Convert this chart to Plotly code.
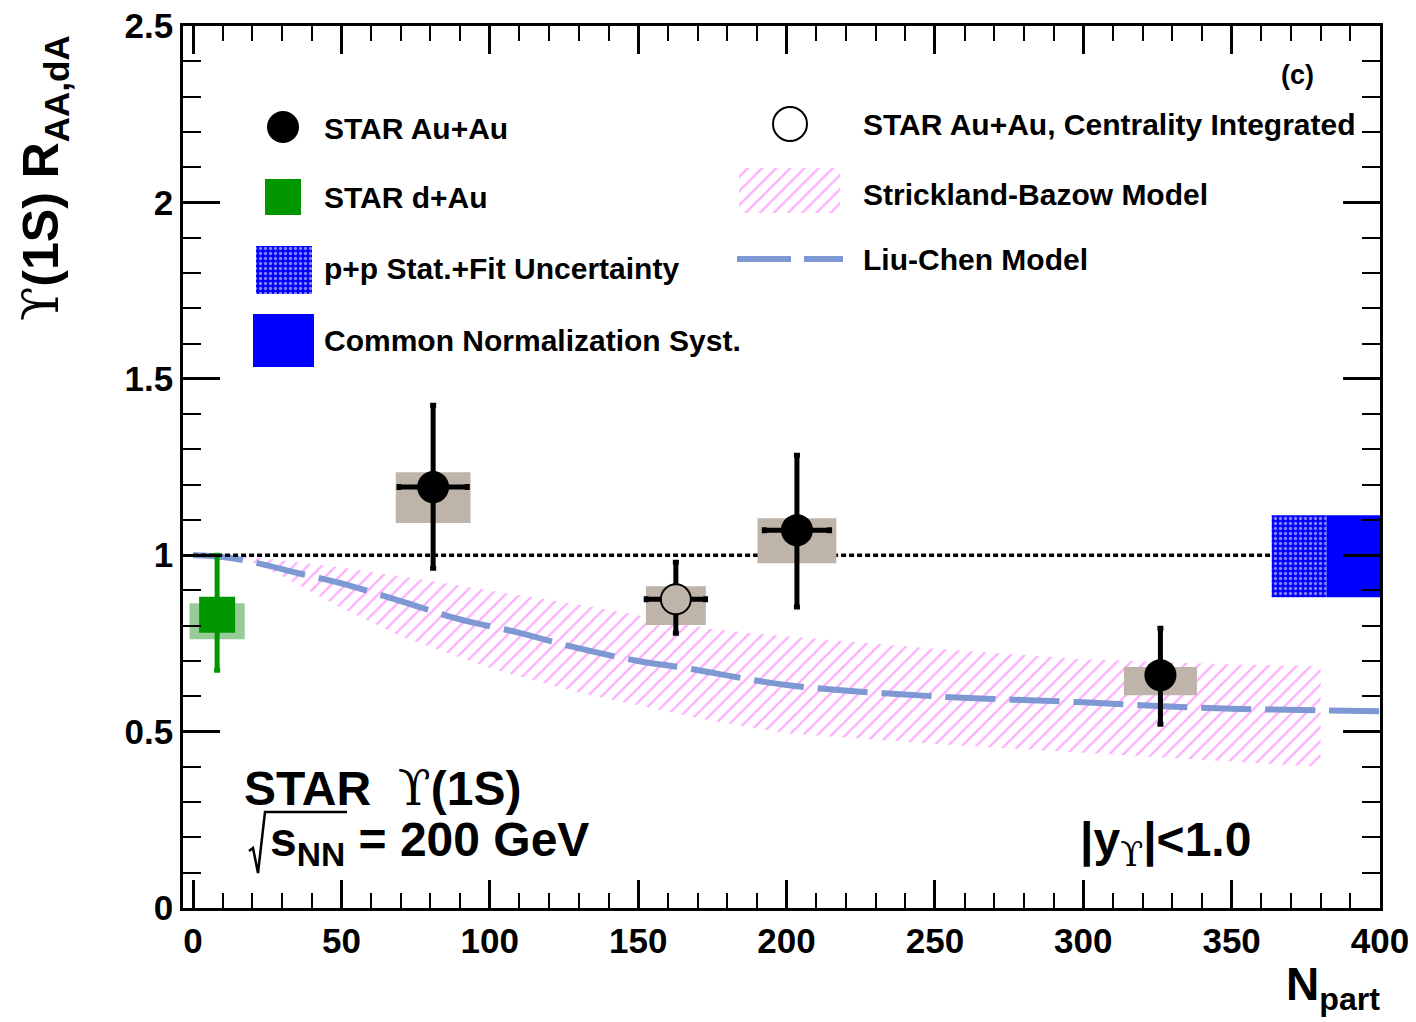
import plotly.graph_objects as go

# ---------------- data ----------------
auau_npart = [80.9, 203.5, 326.0]
auau_raa = [1.193, 1.071, 0.660]
auau_stat_up = [0.232, 0.212, 0.133]
auau_stat_dn = [0.230, 0.218, 0.139]
auau_xerr = [11.5, 11.0, 0.0]
auau_sys_up = [0.042, 0.034, 0.023]
auau_sys_dn = [0.102, 0.094, 0.057]
auau_sys_hw = [12.6, 13.3, 12.3]

int_npart = [162.7]
int_raa = [0.875]
int_stat_up = [0.105]
int_stat_dn = [0.096]
int_xerr = [10.0]
int_sys_up = [0.037]
int_sys_dn = [0.073]
int_sys_hw = [10.1]

dau_npart = [8.1]
dau_raa = [0.831]
dau_stat_up = [0.169]
dau_stat_dn = [0.157]
dau_sys_up = [0.033]
dau_sys_dn = [0.069]
dau_sys_hw = [9.3]

sb_npart = [15, 30, 50, 70, 100, 130, 150, 175, 200, 250, 300, 350, 380]
sb_upper = [1.0, 0.985, 0.965, 0.94, 0.90, 0.86, 0.83, 0.79, 0.77, 0.735, 0.705, 0.69, 0.685]
sb_lower = [1.0, 0.94, 0.85, 0.77, 0.68, 0.61, 0.575, 0.53, 0.495, 0.465, 0.44, 0.415, 0.40]

lc_npart = [0, 10, 22, 35, 50, 70, 89, 110, 128, 150, 166, 200, 250, 300, 327, 350, 380, 400]
lc_raa = [1.0, 0.995, 0.977, 0.95, 0.92, 0.87, 0.82, 0.78, 0.74, 0.70, 0.68, 0.632, 0.60, 0.583, 0.572, 0.565, 0.56, 0.558]

unity_npart = [0, 363.5]
unity_raa = [1.0, 1.0]

pp_stat_npart = [363.5, 382.0]
norm_npart = [382.0, 400.0]
pp_unc_up = 0.113
pp_unc_dn = 0.119

x_ticks = [0, 50, 100, 150, 200, 250, 300, 350, 400]
x_ticklabels = ["0", "50", "100", "150", "200", "250", "300", "350", "400"]
y_ticks = [0, 0.5, 1.0, 1.5, 2.0, 2.5]
y_ticklabels = ["0", "0.5", "1", "1.5", "2", "2.5"]

# ---------------- styles ----------------
FONT = "Liberation Sans"
TAN = "rgb(190,180,170)"
LC_COLOR = "rgb(125,152,210)"
HATCH = "rgb(255,90,255)"
PPBLUE = "rgb(0,0,255)"

# reference-pixel geometry of the frame (page has an 8 px body margin)
OFF = 8
L, R, T, B = 183, 1380, 26, 908
W, H = 1408, 1012


def px_x(p):
    return (p - L) / (R - L)


def px_y(p):
    return (B - p) / (B - T)


def boxes(xc, yc, hw, up, dn):
    xs, ys = [], []
    for x, y, w, u, d in zip(xc, yc, hw, up, dn):
        xs += [x - w, x + w, x + w, x - w, x - w, None]
        ys += [y - d, y - d, y + u, y + u, y - d, None]
    return xs, ys


NOLINE = dict(width=0, color="rgba(0,0,0,0)")
HATCHPAT = dict(shape="/", fgcolor=HATCH, bgcolor="rgba(0,0,0,0)", size=10, solidity=0.22)
PPPAT = dict(shape=".", fgcolor="white", bgcolor=PPBLUE, size=5, solidity=0.35)
fig = go.Figure()

# Strickland-Bazow band
fig.add_trace(go.Scatter(
    x=sb_npart + sb_npart[::-1], y=sb_upper + sb_lower[::-1],
    fill="toself", mode="lines", line=NOLINE, fillcolor="rgba(0,0,0,0)",
    fillpattern=HATCHPAT, hoverinfo="skip"))

# Liu-Chen
fig.add_trace(go.Scatter(
    x=lc_npart, y=lc_raa, mode="lines",
    line=dict(color=LC_COLOR, width=6, dash="50px,14px", shape="spline"),
    hoverinfo="skip"))

# unity line
fig.add_trace(go.Scatter(
    x=unity_npart, y=unity_raa, mode="lines",
    line=dict(color="black", width=3.5, dash="5px,3px"), hoverinfo="skip"))

# p+p stat + fit uncertainty
fig.add_trace(go.Scatter(
    x=[pp_stat_npart[0], pp_stat_npart[1], pp_stat_npart[1], pp_stat_npart[0], pp_stat_npart[0]],
    y=[1 - pp_unc_dn, 1 - pp_unc_dn, 1 + pp_unc_up, 1 + pp_unc_up, 1 - pp_unc_dn],
    fill="toself", mode="lines", line=NOLINE, fillcolor=PPBLUE,
    fillpattern=PPPAT, hoverinfo="skip"))

# common normalization
fig.add_trace(go.Scatter(
    x=[norm_npart[0], norm_npart[1], norm_npart[1], norm_npart[0], norm_npart[0]],
    y=[1 - pp_unc_dn, 1 - pp_unc_dn, 1 + pp_unc_up, 1 + pp_unc_up, 1 - pp_unc_dn],
    fill="toself", mode="lines", line=NOLINE, fillcolor=PPBLUE, hoverinfo="skip"))

# systematic boxes
bx, by = boxes(auau_npart + int_npart, auau_raa + int_raa, auau_sys_hw + int_sys_hw,
               auau_sys_up + int_sys_up, auau_sys_dn + int_sys_dn)
fig.add_trace(go.Scatter(x=bx, y=by, fill="toself", mode="lines", line=NOLINE,
                         fillcolor=TAN, hoverinfo="skip"))
dx, dy = boxes(dau_npart, dau_raa, dau_sys_hw, dau_sys_up, dau_sys_dn)
fig.add_trace(go.Scatter(x=dx, y=dy, fill="toself", mode="lines", line=NOLINE,
                         fillcolor="rgb(150,205,150)", hoverinfo="skip"))

# d+Au
fig.add_trace(go.Scatter(
    x=dau_npart, y=dau_raa, mode="markers",
    marker=dict(symbol="square", size=36, color="rgb(0,150,0)"),
    error_y=dict(type="data", symmetric=False, array=dau_stat_up, arrayminus=dau_stat_dn,
                 thickness=5, width=3, color="rgb(0,150,0)"),
    hoverinfo="skip"))

# Au+Au
fig.add_trace(go.Scatter(
    x=auau_npart, y=auau_raa, mode="markers",
    marker=dict(symbol="circle", size=32, color="black"),
    error_y=dict(type="data", symmetric=False, array=auau_stat_up, arrayminus=auau_stat_dn,
                 thickness=5, width=3, color="black"),
    error_x=dict(type="data", array=auau_xerr, thickness=5, width=3, color="black"),
    hoverinfo="skip"))

# centrality integrated
fig.add_trace(go.Scatter(
    x=int_npart, y=int_raa, mode="markers",
    marker=dict(symbol="circle", size=30, color=TAN, line=dict(color="black", width=2)),
    error_y=dict(type="data", symmetric=False, array=int_stat_up, arrayminus=int_stat_dn,
                 thickness=5, width=3, color="black"),
    error_x=dict(type="data", array=int_xerr, thickness=5, width=3, color="black"),
    hoverinfo="skip"))

# ---------------- legend (overlay axes in paper units) ----------------
leg = dict(xaxis="x2", yaxis="y2", hoverinfo="skip")
fig.add_trace(go.Scatter(x=[px_x(283)], y=[px_y(127)], mode="markers",
                         marker=dict(symbol="circle", size=32, color="black"), **leg))
fig.add_trace(go.Scatter(x=[px_x(283)], y=[px_y(197)], mode="markers",
                         marker=dict(symbol="square", size=36, color="rgb(0,150,0)"), **leg))
fig.add_trace(go.Scatter(x=[px_x(790)], y=[px_y(124)], mode="markers",
                         marker=dict(symbol="circle-open", size=34, color="black", line=dict(width=2)), **leg))


def rect(x0, x1, y0, y1):
    return ([px_x(x0), px_x(x1), px_x(x1), px_x(x0), px_x(x0)],
            [px_y(y1), px_y(y1), px_y(y0), px_y(y0), px_y(y1)])


rx, ry = rect(256, 312, 246, 294)
fig.add_trace(go.Scatter(x=rx, y=ry, fill="toself", mode="lines", line=NOLINE, fillcolor=PPBLUE,
                         fillpattern=PPPAT, **leg))
rx, ry = rect(253, 314, 314, 367)
fig.add_trace(go.Scatter(x=rx, y=ry, fill="toself", mode="lines", line=NOLINE,
                         fillcolor=PPBLUE, **leg))
rx, ry = rect(739, 840, 168, 213)
fig.add_trace(go.Scatter(x=rx, y=ry, fill="toself", mode="lines", line=NOLINE,
                         fillcolor="rgba(0,0,0,0)", fillpattern=HATCHPAT, **leg))
fig.add_trace(go.Scatter(x=[px_x(737), px_x(843)], y=[px_y(259), px_y(259)], mode="lines",
                         line=dict(color=LC_COLOR, width=6, dash="54px,13px"), **leg))

annotations = []


def txt(text, x, y, size, xanchor="left", yanchor="middle", angle=0):
    annotations.append(dict(text=text, x=px_x(x), y=px_y(y), xref="paper", yref="paper",
                            xanchor=xanchor, yanchor=yanchor, showarrow=False, textangle=angle,
                            font=dict(family=FONT, size=size, color="black", weight="bold")))


LEGSIZE = 30
txt("STAR Au+Au", 322, 128, LEGSIZE)
txt("STAR d+Au", 322, 198, LEGSIZE)
txt("p+p Stat.+Fit Uncertainty", 322, 268, LEGSIZE)
txt("Common Normalization Syst.", 322, 340, LEGSIZE)
txt("STAR Au+Au, Centrality Integrated", 861, 124, LEGSIZE)
txt("Strickland-Bazow Model", 861, 194, LEGSIZE)
txt("Liu-Chen Model", 861, 260, LEGSIZE)
txt("(c)", 1297, 75, 27, xanchor="center")

UPS = "<span style='font-family:DejaVu Serif;font-weight:normal'>ϒ</span>"
txt("STAR  " + UPS + "(1S)", 242, 788, 48)
txt("s<sub>NN</sub> = 200 GeV", 268, 843, 48)
txt("|y<sub>" + UPS + "</sub>|<1.0", 1078, 843, 48)
txt("N<sub>part</sub>", 1382, 987, 46, xanchor="right")
txt(UPS + "(1S) R<sub>AA,dA</sub>", 44, 178, 50, xanchor="center", angle=-90)

# radical sign for sqrt(s_NN)
rad = [(249, 851), (253, 848), (258, 873), (265, 812), (347, 812)]
path = "M " + " L ".join(f"{px_x(a):.5f},{px_y(b):.5f}" for a, b in rad)
shapes = [dict(type="path", path=path, xref="paper", yref="paper",
               line=dict(color="black", width=2.5))]

axfont = dict(family=FONT, size=35, color="black", weight="bold")

fig.update_layout(
    width=W, height=H,
    margin=dict(l=L - OFF, r=W - (R - OFF), t=T - OFF, b=H - (B - OFF), autoexpand=False),
    plot_bgcolor="white", paper_bgcolor="white",
    showlegend=False,
    annotations=annotations,
    shapes=shapes,
    xaxis=dict(range=[-3.4, 400], tickvals=x_ticks, ticktext=x_ticklabels,
               ticks="inside", ticklen=28, tickwidth=2.5, tickcolor="black",
               showline=True, linewidth=2.5, linecolor="black", mirror="ticks",
               minor=dict(ticks="inside", ticklen=15, tickwidth=2, dtick=10, tick0=0, tickcolor="black"),
               showgrid=False, zeroline=False, tickfont=axfont, automargin=False,
               ticklabeloverflow="allow"),
    yaxis=dict(range=[0, 2.5], tickvals=y_ticks, ticktext=y_ticklabels,
               ticks="inside", ticklen=37, tickwidth=2.5, tickcolor="black",
               showline=True, linewidth=2.5, linecolor="black", mirror="ticks",
               minor=dict(ticks="inside", ticklen=18, tickwidth=2, dtick=0.1, tick0=0, tickcolor="black"),
               showgrid=False, zeroline=False, tickfont=axfont, automargin=False,
               ticklabeloverflow="allow"),
    xaxis2=dict(overlaying="x", range=[0, 1], visible=False, anchor="y2"),
    yaxis2=dict(overlaying="y", range=[0, 1], visible=False, anchor="x2"),
)

fig.write_html("out.html")
